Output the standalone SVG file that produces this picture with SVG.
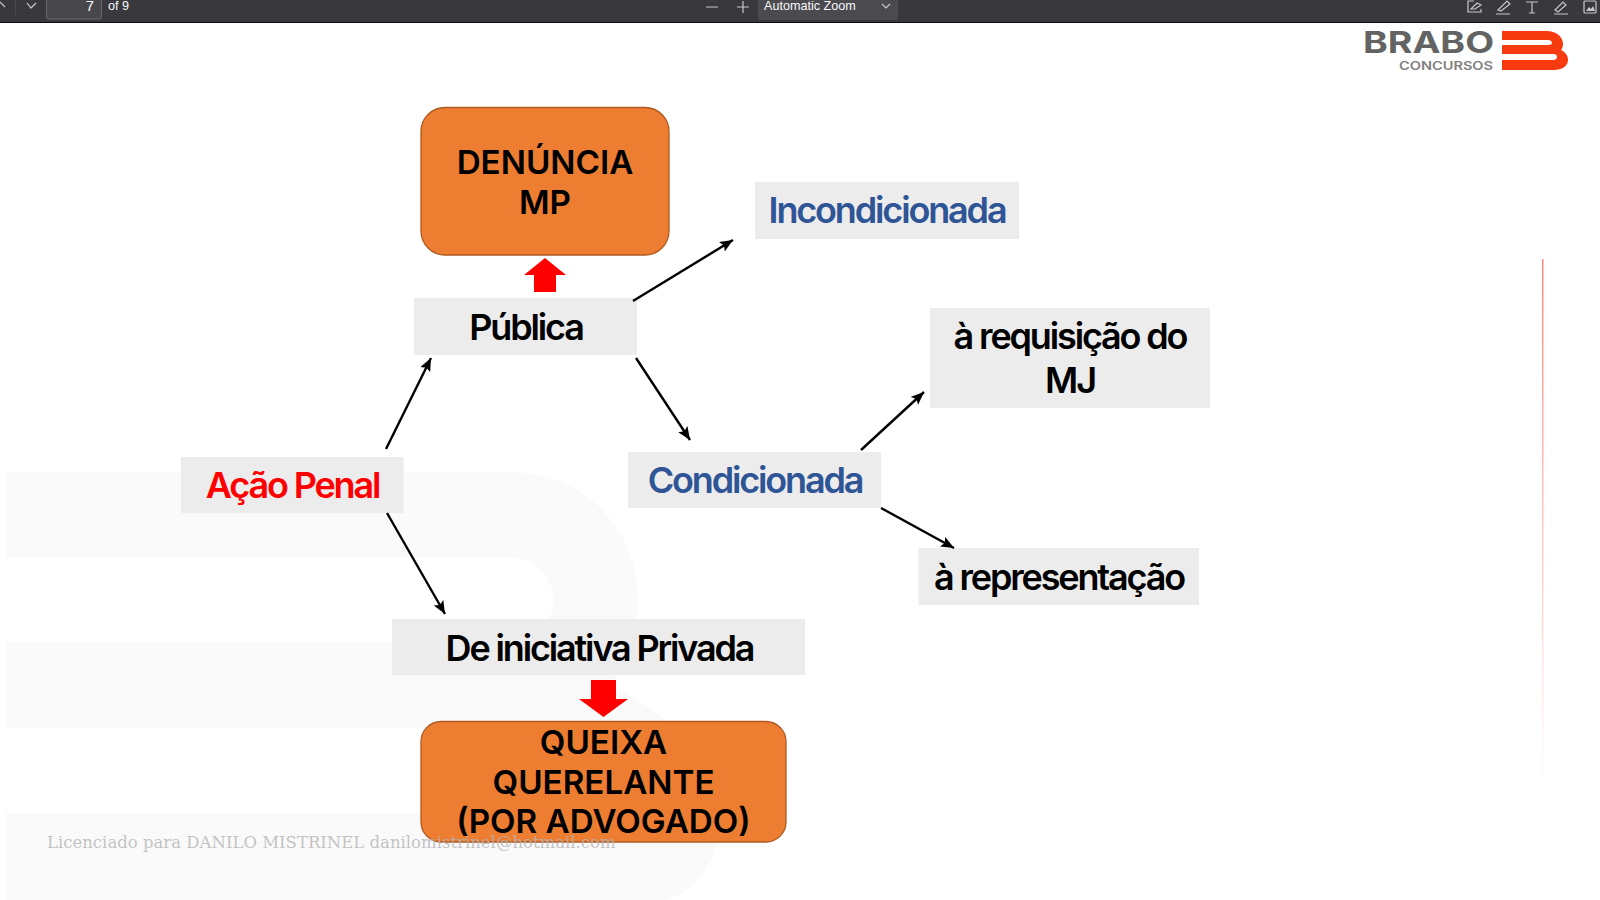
<svg xmlns="http://www.w3.org/2000/svg" width="1600" height="900" viewBox="0 0 1600 900">
<style>
text{font-family:Inter,"Noto Sans",sans-serif}
.box{fill:#ececec}
.org{fill:#ed7d31;stroke:#ae5a21;stroke-width:1.3}
.lbl{font-size:36px;font-weight:600;letter-spacing:-2.150px;text-anchor:middle;fill:#000}
.cap{font-size:33.200px;font-weight:600;text-anchor:middle;fill:#000}
.blue{fill:#2f5597}
.tb{font-family:"Liberation Sans",sans-serif;font-size:12.600px;fill:#f9f9fa}
.ic{fill:none;stroke:#c8c8cc;stroke-width:1.2}
.con{fill:none;stroke:#000;stroke-width:2.4;marker-end:url(#ah)}
</style>
<defs>
<marker id="ah" markerUnits="userSpaceOnUse" markerWidth="14" markerHeight="12" refX="13" refY="5.5" orient="auto"><path d="M0 0L13 5.500L0 11L2.500 5.500Z" fill="#000"/></marker>
<linearGradient id="fade" x1="0" y1="0" x2="0" y2="1"><stop offset="0" stop-color="#ff8a80"/><stop offset=".5" stop-color="#ffc9c4"/><stop offset="1" stop-color="#ffffff"/></linearGradient>
</defs>
<rect width="1600" height="900" fill="#fff"/>
<g id="watermark-b" fill="#fafafa">
<path d="M6 472H510C585 472 638 530 638 600C638 640 628 665 610 685C680 720 722 770 722 815C722 860 690 900 660 900H6V813H520C548 813 556 795 556 780C556 750 540 728 510 728H6V642H505C535 642 553 625 553 600C553 575 535 557 505 557H6Z"/>
</g>
<g id="toolbar">
<rect width="1600" height="22" fill="#38383d"/>
<rect y="22" width="1600" height="1" fill="#0c0c0d"/>
<path class="ic" d="M0 2L5 7M27 3L31 8L36 3"/>
<path d="M15.500 0V15" stroke="#4a4a4f"/>
<rect x="46.500" y="-4" width="55" height="23" rx="2" fill="#47474c" stroke="#6a6a6e"/>
<text class="tb" x="94" y="11" text-anchor="end" style="font-size:15px">7</text>
<text class="tb" x="108" y="10">of 9</text>
<path class="ic" d="M706 7H718M737 7H749M743 1V13"/>
<rect x="758" y="-2" width="140" height="22" rx="2" fill="#4a4a4f"/>
<text class="tb" x="764" y="10">Automatic Zoom</text>
<path class="ic" d="M882 4L886 8L890 4"/>
<path class="ic" d="M1474 1H1468V12H1481V9M1471 9L1477 3L1481 5L1475 9Z"/>
<path class="ic" d="M1498 10L1507 1L1510 4L1501 11ZM1496 14H1510"/>
<path class="ic" d="M1526 2H1538M1532 2V13M1529 13H1535"/>
<path class="ic" d="M1555 10L1563 2L1566 5L1558 12ZM1554 14H1568"/>
<rect class="ic" x="1584" y="1" width="12" height="12" rx="1"/>
<path d="M1586 11L1589 7L1591 9L1593 6L1595 11Z" fill="#c8c8cc"/>
</g>
<g id="logo">
<text x="1363" y="53" textLength="131" lengthAdjust="spacingAndGlyphs" style="font-size:30px;font-weight:700" fill="#636363">BRABO</text>
<text x="1399" y="70" textLength="94" lengthAdjust="spacingAndGlyphs" style="font-size:11.500px;font-weight:600" fill="#808080">CONCURSOS</text>
<path d="M1502 31H1546C1558 31 1563 38 1563 44C1563 47 1562 49 1561 50C1565 52 1568 55 1568 60C1568 66 1562 70 1554 70H1502V60H1553C1556 60 1557 58 1557 57C1557 55 1556 54 1553 54H1502V45H1548C1551 45 1552 44 1552 43C1552 41 1550 40 1548 40H1502Z" fill="#f73b0f"/>
</g>
<rect id="side-line" x="1542" y="259" width="1.500" height="530" fill="url(#fade)"/>
<g id="block-arrows" fill="#f00">
<path d="M545 258L566 275H556V292H534V275H524Z"/>
<path d="M591 680H616V699H628L603.500 717L579 699H591Z"/>
</g>
<g id="denuncia"><rect class="org" x="421" y="107.500" width="248" height="147.500" rx="24"/><text class="cap" x="545" y="174">DENÚNCIA</text><text class="cap" x="545" y="214">MP</text></g>
<g id="publica"><rect class="box" x="414" y="298" width="223" height="57"/><text class="lbl" x="526" y="340">Pública</text></g>
<g id="incondicionada"><rect class="box" x="755" y="182" width="264" height="57"/><text class="lbl blue" x="887" y="223">Incondicionada</text></g>
<g id="requisicao"><rect class="box" x="930" y="308" width="280" height="100"/><text class="lbl" x="1070" y="349">à requisição do</text><text class="lbl" x="1070" y="393">MJ</text></g>
<g id="acao-penal"><rect class="box" x="181" y="457" width="222.500" height="56"/><text class="lbl" x="292.500" y="498" style="fill:#f00">Ação Penal</text></g>
<g id="condicionada"><rect class="box" x="628" y="452" width="253" height="56"/><text class="lbl blue" x="755" y="493">Condicionada</text></g>
<g id="representacao"><rect class="box" x="918.500" y="548" width="280.500" height="57"/><text class="lbl" x="1059" y="590">à representação</text></g>
<g id="privada"><rect class="box" x="392" y="619" width="413" height="56"/><text class="lbl" x="599.500" y="661">De iniciativa Privada</text></g>
<g id="queixa"><rect class="org" x="421" y="721.500" width="365" height="120.500" rx="20"/><text class="cap" x="603.500" y="754">QUEIXA</text><text class="cap" x="603.500" y="794">QUERELANTE</text><text class="cap" x="603.500" y="833">(POR ADVOGADO)</text></g>
<g id="connectors">
<path class="con" d="M386 449L431 358"/>
<path class="con" d="M387 513L445 614"/>
<path class="con" d="M633 301L733 240"/>
<path class="con" d="M636 358L690 440"/>
<path class="con" d="M861 450L924 392"/>
<path class="con" d="M881 508L954 548"/>
</g>
<text id="license" x="47" y="848" style="font-family:'DejaVu Serif',serif;font-size:16.500px" fill="#b4b4b4" fill-opacity=".8">Licenciado para DANILO MISTRINEL danilomistrinel@hotmail.com</text>
</svg>
